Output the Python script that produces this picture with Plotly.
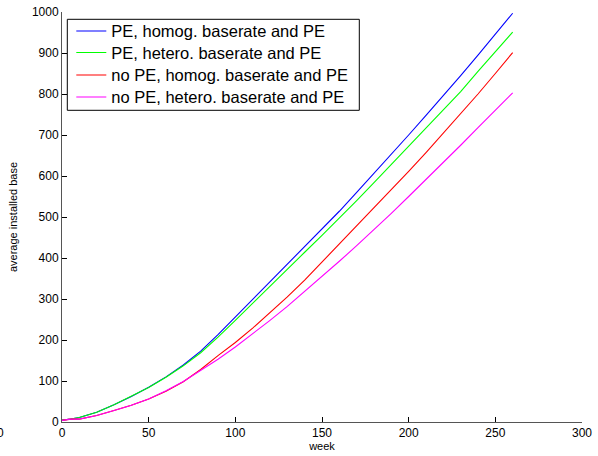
import plotly.graph_objects as go

weeks = [0, 5, 10, 20, 30, 40, 50, 60, 70, 80, 90, 100, 110, 120, 130, 140,
         150, 160, 170, 180, 190, 200, 210, 220, 230, 240, 250, 260]

pe_homog = [5, 7, 11, 24, 42, 62, 85, 110, 139, 173, 213, 256, 299, 342, 385, 427,
            469, 514, 560, 606, 653, 700, 748, 796, 845, 895, 946, 997]
pe_hetero = [5, 7, 11, 24, 42, 62, 84, 109, 137, 169, 207, 248, 290, 332, 373, 414,
             455, 497, 540, 584, 628, 672, 716, 761, 806, 855, 903, 951]
nope_homog = [4, 7, 7, 16, 28, 41, 56, 75, 98, 128, 162, 194, 229, 266, 305, 346,
              390, 434, 478, 522, 566, 611, 657, 704, 751, 800, 850, 901]
nope_hetero = [4, 7, 7, 16, 28, 41, 56, 76, 99, 125, 153, 183, 215, 248, 282, 318,
               355, 392, 430, 469, 509, 550, 591, 633, 675, 718, 760, 803]

names = ["PE, homog. baserate and PE", "PE, hetero. baserate and PE",
         "no PE, homog. baserate and PE", "no PE, hetero. baserate and PE"]
colors = ["#0000ff", "#00ff00", "#ff0000", "#ff00ff"]
series = [pe_homog, pe_hetero, nope_homog, nope_hetero]

x_ticks = [0, 50, 100, 150, 200, 250, 300]
y_ticks = [0, 100, 200, 300, 400, 500, 600, 700, 800, 900, 1000]

font_family = "Liberation Sans, Arial, sans-serif"

# plot-area geometry in pixels (used to convert legend/annotation positions)
PL, PR, PT, PB = 61.7, 581.7, 11.7, 421.7
PW, PH = PR - PL, PB - PT


def px_to_paper(px, py):
    return (px - PL) / PW, (PB - py) / PH


legend_ids = ["legend", "legend2", "legend3", "legend4"]
legend_tops = [13.5, 35, 57.5, 79.5]

fig = go.Figure()
for name, col, vals, lid in zip(names, colors, series, legend_ids):
    fig.add_trace(go.Scatter(x=weeks, y=vals, mode="lines", name=name,
                             line=dict(color=col, width=1.1), legend=lid))

axis_common = dict(showgrid=False, zeroline=False, showline=True,
                   linecolor="#555555", linewidth=1, ticks="inside",
                   ticklen=5, tickcolor="#000000", tickwidth=1,
                   tickfont=dict(family=font_family, size=12, color="#000000"))

bx0, by0 = px_to_paper(67, 19)
bx1, by1 = px_to_paper(359, 110)
ax, ay = px_to_paper(0, 433)

legend_layouts = {}
for lid, top in zip(legend_ids, legend_tops):
    lx, ly = px_to_paper(71, top)
    legend_layouts[lid] = dict(x=lx, y=ly, xanchor="left", yanchor="top",
                               bgcolor="rgba(0,0,0,0)", borderwidth=0,
                               font=dict(family=font_family, size=16.5, color="#000000"))

fig.update_layout(
    width=598, height=456,
    margin=dict(l=62, r=16, t=12, b=34, autoexpand=False),
    paper_bgcolor="white", plot_bgcolor="white",
    font=dict(family=font_family, color="#000000"),
    xaxis=dict(range=[0, 300], tickvals=x_ticks,
               title=dict(text="week", font=dict(size=11), standoff=2),
               **axis_common),
    yaxis=dict(range=[0, 1000], tickvals=y_ticks,
               title=dict(text="average installed base", font=dict(size=11), standoff=12),
               **axis_common),
    showlegend=True,
    **legend_layouts,
)

fig.add_shape(type="rect", xref="paper", yref="paper",
              x0=bx0, y0=by1, x1=bx1, y1=by0,
              line=dict(color="#000000", width=1), fillcolor="white", layer="above")

fig.add_annotation(text="0", xref="paper", yref="paper", x=ax, y=ay,
                   xanchor="center", yanchor="middle", showarrow=False,
                   font=dict(family=font_family, size=12, color="#000000"))

fig.write_html("out.html", config={"displayModeBar": False},
               post_script="document.body.style.margin='0';")
